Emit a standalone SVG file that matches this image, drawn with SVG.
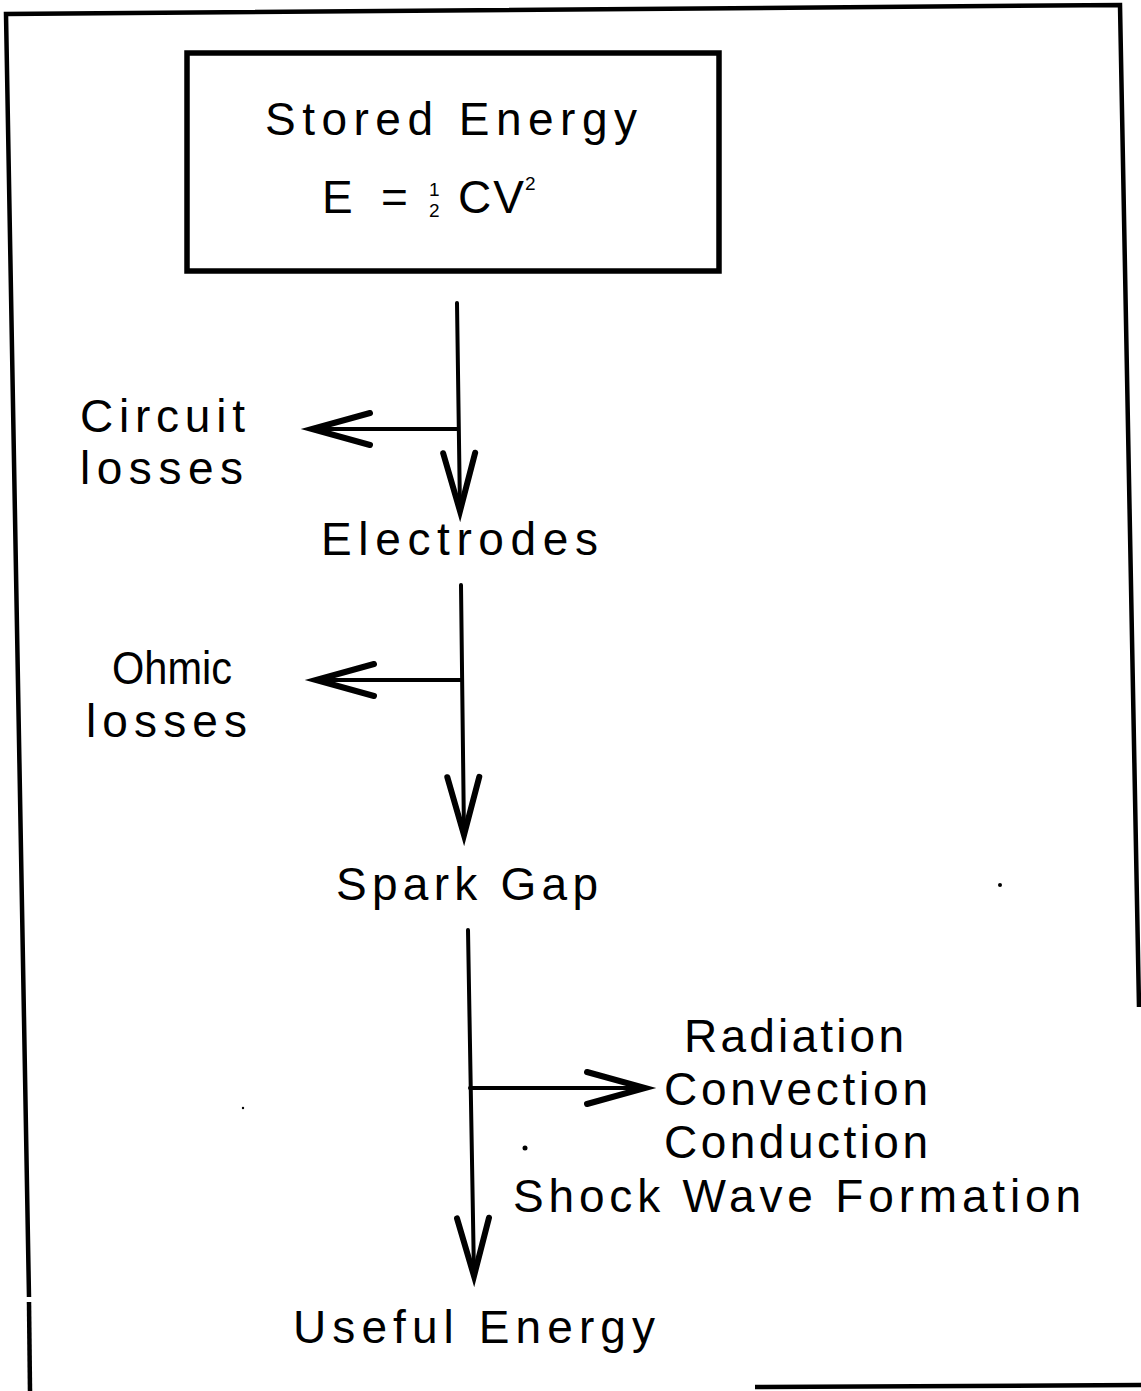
<svg xmlns="http://www.w3.org/2000/svg" width="1141" height="1391" viewBox="0 0 1141 1391">
<style>
  text { font-family: "Liberation Sans", Arial, sans-serif; fill: #000; }
  .lbl { font-size: 46px; }
  .ln { fill: none; stroke: #000; stroke-width: 4; stroke-linecap: round; }
  .frame { fill: none; stroke: #000; stroke-width: 4.5; stroke-linecap: butt; stroke-linejoin: miter; }
  .box { fill: #fff; stroke: #000; stroke-width: 5.5; }
</style>
<defs>
  <marker id="vhead" markerUnits="userSpaceOnUse" markerWidth="80" markerHeight="40" refX="0" refY="0" orient="auto" overflow="visible">
    <path d="M-58,-16 L0,0 L-58,16" fill="none" stroke="#000" stroke-width="6" stroke-linejoin="miter" stroke-linecap="round"/>
  </marker>
</defs>
<rect x="0" y="0" width="1141" height="1391" fill="#fff"/>

<g id="frame">
  <path class="frame" d="M29,1297 L6,14 L1120,5 L1139,1007"/>
  <path class="frame" d="M29,1302 L30,1391"/>
  <path class="frame" d="M755,1387 L1141,1385"/>
</g>

<g id="connectors">
  <path class="ln" d="M457,303 L460,511" marker-end="url(#vhead)"/>
  <path class="ln" d="M458,429 L312,429" marker-end="url(#vhead)"/>
  <path class="ln" d="M461,585 L464,835" marker-end="url(#vhead)"/>
  <path class="ln" d="M462,680 L316,680" marker-end="url(#vhead)"/>
  <path class="ln" d="M468,930 L474,1276" marker-end="url(#vhead)"/>
  <path class="ln" d="M470,1088 L645,1088" marker-end="url(#vhead)"/>
</g>

<g id="stored-energy">
  <rect class="box" x="187" y="53" width="532" height="218"/>
  <text class="lbl" x="265" y="135" textLength="372" lengthAdjust="spacing">Stored Energy</text>
  <text class="lbl" x="322" y="213">E</text>
  <text class="lbl" x="381" y="213">=</text>
  <text x="429" y="196" font-size="19">1</text>
  <text x="429" y="217" font-size="19">2</text>
  <text class="lbl" x="458" y="213" textLength="66" lengthAdjust="spacing">CV</text>
  <text x="525" y="190" font-size="19">2</text>
</g>

<g id="circuit-losses">
  <text class="lbl" x="80" y="432" textLength="165" lengthAdjust="spacing">Circuit</text>
  <text class="lbl" x="80" y="484" textLength="163" lengthAdjust="spacing">losses</text>
</g>

<g id="electrodes">
  <text class="lbl" x="321" y="555" textLength="277" lengthAdjust="spacing">Electrodes</text>
</g>

<g id="ohmic-losses">
  <text class="lbl" x="112" y="684" textLength="120" lengthAdjust="spacingAndGlyphs">Ohmic</text>
  <text class="lbl" x="86" y="737" textLength="161" lengthAdjust="spacing">losses</text>
</g>

<g id="spark-gap">
  <text class="lbl" x="336" y="900" textLength="262" lengthAdjust="spacing">Spark Gap</text>
</g>

<g id="heat-losses">
  <text class="lbl" x="684" y="1052" textLength="220" lengthAdjust="spacing">Radiation</text>
  <text class="lbl" x="664" y="1105" textLength="264" lengthAdjust="spacing">Convection</text>
  <text class="lbl" x="664" y="1158" textLength="264" lengthAdjust="spacing">Conduction</text>
  <text class="lbl" x="513" y="1212" textLength="568" lengthAdjust="spacing">Shock Wave Formation</text>
</g>

<g id="useful-energy">
  <text class="lbl" x="293" y="1343" textLength="362" lengthAdjust="spacing">Useful Energy</text>
</g>

<g id="specks" fill="#000">
  <circle cx="1000" cy="885" r="2"/>
  <circle cx="525" cy="1148" r="2.5"/>
  <circle cx="243" cy="1108" r="1.2"/>
</g>
</svg>
